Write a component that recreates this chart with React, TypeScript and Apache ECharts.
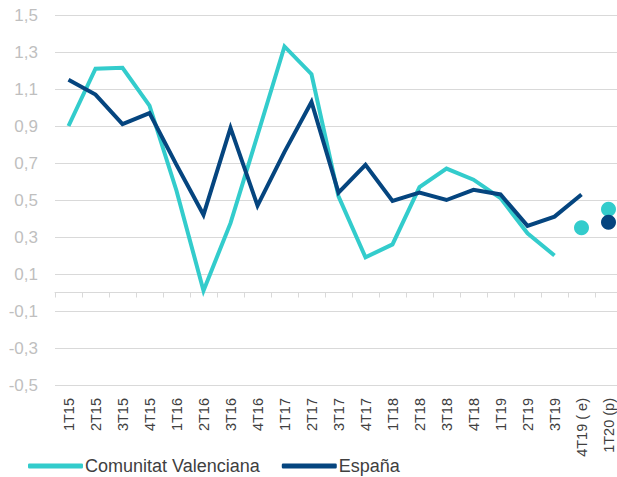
import React, { useEffect, useRef } from "react";
import * as echarts from "echarts";

const categories = [
  "1T15", "2T15", "3T15", "4T15",
  "1T16", "2T16", "3T16", "4T16",
  "1T17", "2T17", "3T17", "4T17",
  "1T18", "2T18", "3T18", "4T18",
  "1T19", "2T19", "3T19", "4T19 ( e)", "1T20 (p)",
];

// Comunitat Valenciana, observed (1T15 .. 3T19)
const cvValues = [0.90, 1.21, 1.215, 1.01, 0.55, 0.01, 0.375, 0.85, 1.33, 1.18, 0.52, 0.19, 0.26, 0.57, 0.67, 0.61, 0.51, 0.32, 0.20];
// España, observed (1T15 .. 4T19)
const esValues = [1.15, 1.07, 0.91, 0.97, 0.69, 0.42, 0.89, 0.47, 0.76, 1.03, 0.54, 0.69, 0.495, 0.54, 0.50, 0.555, 0.53, 0.36, 0.41, 0.53];

// Estimates / forecasts shown as dots
const cvDotCats = ["4T19 ( e)", "1T20 (p)"];
const cvDotValues = [0.35, 0.45];
const esDotCats = ["1T20 (p)"];
const esDotValues = [0.38];

const yMin = -0.5;
const yMax = 1.5;
const yStep = 0.2;

const CV_COLOR = "#33CCCC";
const ES_COLOR = "#05457F";

export default function App() {
  const ref = useRef<HTMLDivElement>(null);

  useEffect(() => {
    if (!ref.current) return;
    const chart = echarts.init(ref.current, null, { renderer: "svg" });
    const option = {
      animation: false,
      backgroundColor: "#ffffff",
      grid: {
        left: 55,
        right: -5,
        top: 15,
        bottom: 92,
        containLabel: false,
        outerBoundsMode: "none",
      },
      legend: {
        left: 23,
        top: 452,
        itemWidth: 55,
        itemHeight: 5,
        itemGap: 22,
        icon: "roundRect",
        data: ["Comunitat Valenciana", "España"],
        textStyle: {
          fontFamily: "Liberation Sans, Arial, sans-serif",
          fontSize: 18,
          color: "#404040",
          padding: [0, 0, 0, -3],
        },
      },
      xAxis: {
        type: "category",
        data: categories,
        boundaryGap: true,
        axisLine: { onZero: true, lineStyle: { color: "#D9D9D9", width: 1 } },
        axisTick: { show: true, length: 5, lineStyle: { color: "#D9D9D9" } },
        axisLabel: {
          rotate: 90,
          interval: 0,
          margin: 13,
          fontFamily: "Liberation Sans, Arial, sans-serif",
          fontSize: 14.5,
          color: "#404040",
        },
        splitLine: { show: false },
      },
      yAxis: {
        type: "value",
        min: yMin,
        max: yMax,
        interval: yStep,
        axisLine: { show: false },
        axisTick: { show: false },
        axisLabel: {
          margin: 17,
          fontFamily: "Liberation Sans, Arial, sans-serif",
          fontSize: 17,
          color: "#BFBFBF",
          formatter: (v: number) => v.toFixed(1).replace(".", ","),
        },
        splitLine: { show: true, lineStyle: { color: "#D9D9D9", width: 1 } },
      },
      series: [
        {
          name: "Comunitat Valenciana",
          type: "line",
          data: cvValues,
          symbol: "none",
          lineStyle: { color: CV_COLOR, width: 4, join: "miter" },
          itemStyle: { color: CV_COLOR },
          z: 2,
        },
        {
          name: "España",
          type: "line",
          data: esValues,
          symbol: "none",
          lineStyle: { color: ES_COLOR, width: 4, join: "miter" },
          itemStyle: { color: ES_COLOR },
          z: 3,
        },
        {
          name: "CV previsión",
          type: "scatter",
          data: cvDotCats.map((c, i) => [c, cvDotValues[i]]),
          symbolSize: 15,
          itemStyle: { color: CV_COLOR, opacity: 1 },
          z: 4,
        },
        {
          name: "España previsión",
          type: "scatter",
          data: esDotCats.map((c, i) => [c, esDotValues[i]]),
          symbolSize: 15,
          itemStyle: { color: ES_COLOR, opacity: 1 },
          z: 5,
        },
      ],
    };
    chart.setOption(option);
    return () => chart.dispose();
  }, []);

  return (
    <div
      ref={ref}
      style={{ position: "fixed", left: 0, top: 0, width: 617, height: 477 }}
    />
  );
}
